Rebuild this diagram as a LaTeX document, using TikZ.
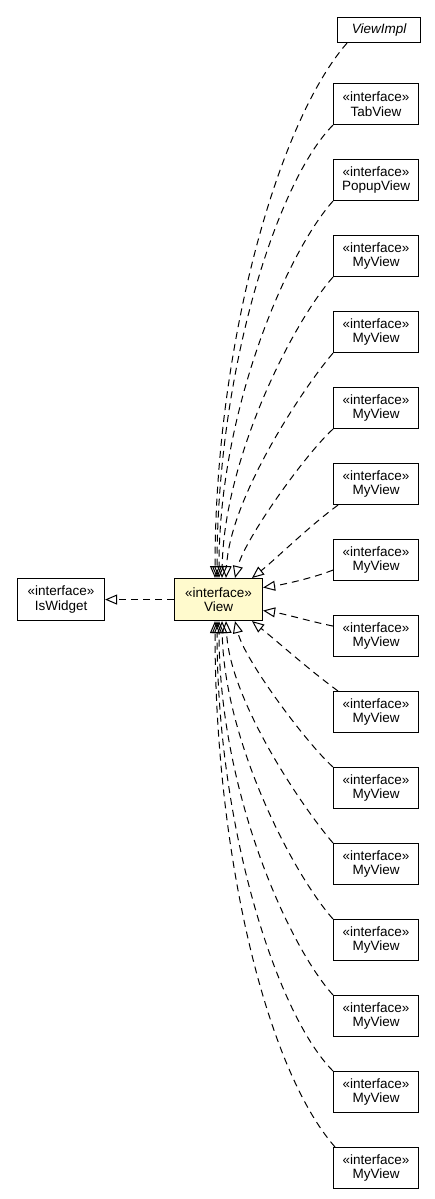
\documentclass[tikz,border=0pt]{standalone}
\usepackage{fontspec}
\setmainfont{Liberation Sans}
\usetikzlibrary{arrows.meta}
\definecolor{viewfill}{RGB}{255,250,205}
\begin{document}
\begin{tikzpicture}[x=1pt,y=-1pt,
  box/.style={draw,line width=1.1pt,minimum width=85pt,minimum height=41pt,inner sep=0pt,
    align=center,font=\fontsize{13.5}{14.5}\selectfont,anchor=north west},
  rel/.style={line width=1pt,dash pattern=on 7pt off 5pt,
    -{Triangle[open,length=12pt,width=10pt,line width=1pt]}}]
\useasboundingbox (0,0) rectangle (435,1199);

\node[box,minimum width=83pt,minimum height=25pt,font=\fontsize{13.5}{14.5}\selectfont\itshape] (vi) at (337,17) {ViewImpl};
\node[box] (tv) at (333,83) {«interface»\\TabView};
\node[box] (pv) at (333,159) {«interface»\\PopupView};
\node[box] (m1) at (333,235) {«interface»\\MyView};
\node[box] (m2) at (333,311) {«interface»\\MyView};
\node[box] (m3) at (333,387) {«interface»\\MyView};
\node[box] (m4) at (333,463) {«interface»\\MyView};
\node[box] (m5) at (333,539) {«interface»\\MyView};
\node[box] (m6) at (333,615) {«interface»\\MyView};
\node[box] (m7) at (333,691) {«interface»\\MyView};
\node[box] (m8) at (333,767) {«interface»\\MyView};
\node[box] (m9) at (333,843) {«interface»\\MyView};
\node[box] (m10) at (333,919) {«interface»\\MyView};
\node[box] (m11) at (333,995) {«interface»\\MyView};
\node[box] (m12) at (333,1071) {«interface»\\MyView};
\node[box] (m13) at (333,1147) {«interface»\\MyView};

\node[box,fill=viewfill,minimum width=88pt,minimum height=42pt] (view) at (174,578) {«interface»\\View};
\node[box,minimum width=87pt,minimum height=42pt] (iw) at (17,578) {«interface»\\IsWidget};

\draw[rel] (view.west) -- (iw.east);

% top group
\draw[rel] ([xshift=10pt]vi.south west) .. controls +(-70,80) and +(0,-230) .. ([xshift=41pt]view.north west);
\draw[rel] (tv.south west) .. controls +(-55,55) and +(0,-210) .. ([xshift=43pt]view.north west);
\draw[rel] (pv.south west) .. controls +(-45,50) and +(0,-170) .. ([xshift=45pt]view.north west);
\draw[rel] (m1.south west) .. controls +(-40,45) and +(2,-120) .. ([xshift=48pt]view.north west);
\draw[rel] (m2.south west) .. controls +(-30,35) and +(4,-80) .. ([xshift=52pt]view.north west);
\draw[rel] (m3.south west) .. controls +(-25,22) and +(10,-40) .. ([xshift=61pt]view.north west);
\draw[rel] ([xshift=5pt]m4.south west) .. controls +(-30,22) and +(25,-20) .. ([xshift=78pt]view.north west);
% right side
\draw[rel] ([yshift=-10pt]m5.west) .. controls +(-20,8) and +(20,-3) .. ([yshift=12pt]view.east);
\draw[rel] ([yshift=10pt]m6.west) .. controls +(-20,-4) and +(20,3) .. ([yshift=-11pt]view.east);
% bottom group
\draw[rel] ([xshift=5pt]m7.north west) .. controls +(-30,-22) and +(25,20) .. ([xshift=78pt]view.south west);
\draw[rel] (m8.north west) .. controls +(-25,-22) and +(10,40) .. ([xshift=61pt]view.south west);
\draw[rel] (m9.north west) .. controls +(-30,-35) and +(4,80) .. ([xshift=52pt]view.south west);
\draw[rel] (m10.north west) .. controls +(-40,-45) and +(2,120) .. ([xshift=48pt]view.south west);
\draw[rel] (m11.north west) .. controls +(-45,-50) and +(0,170) .. ([xshift=45pt]view.south west);
\draw[rel] (m12.north west) .. controls +(-55,-55) and +(0,210) .. ([xshift=43pt]view.south west);
\draw[rel] ([xshift=2pt]m13.north west) .. controls +(-70,-80) and +(0,230) .. ([xshift=41pt]view.south west);
\end{tikzpicture}
\end{document}
